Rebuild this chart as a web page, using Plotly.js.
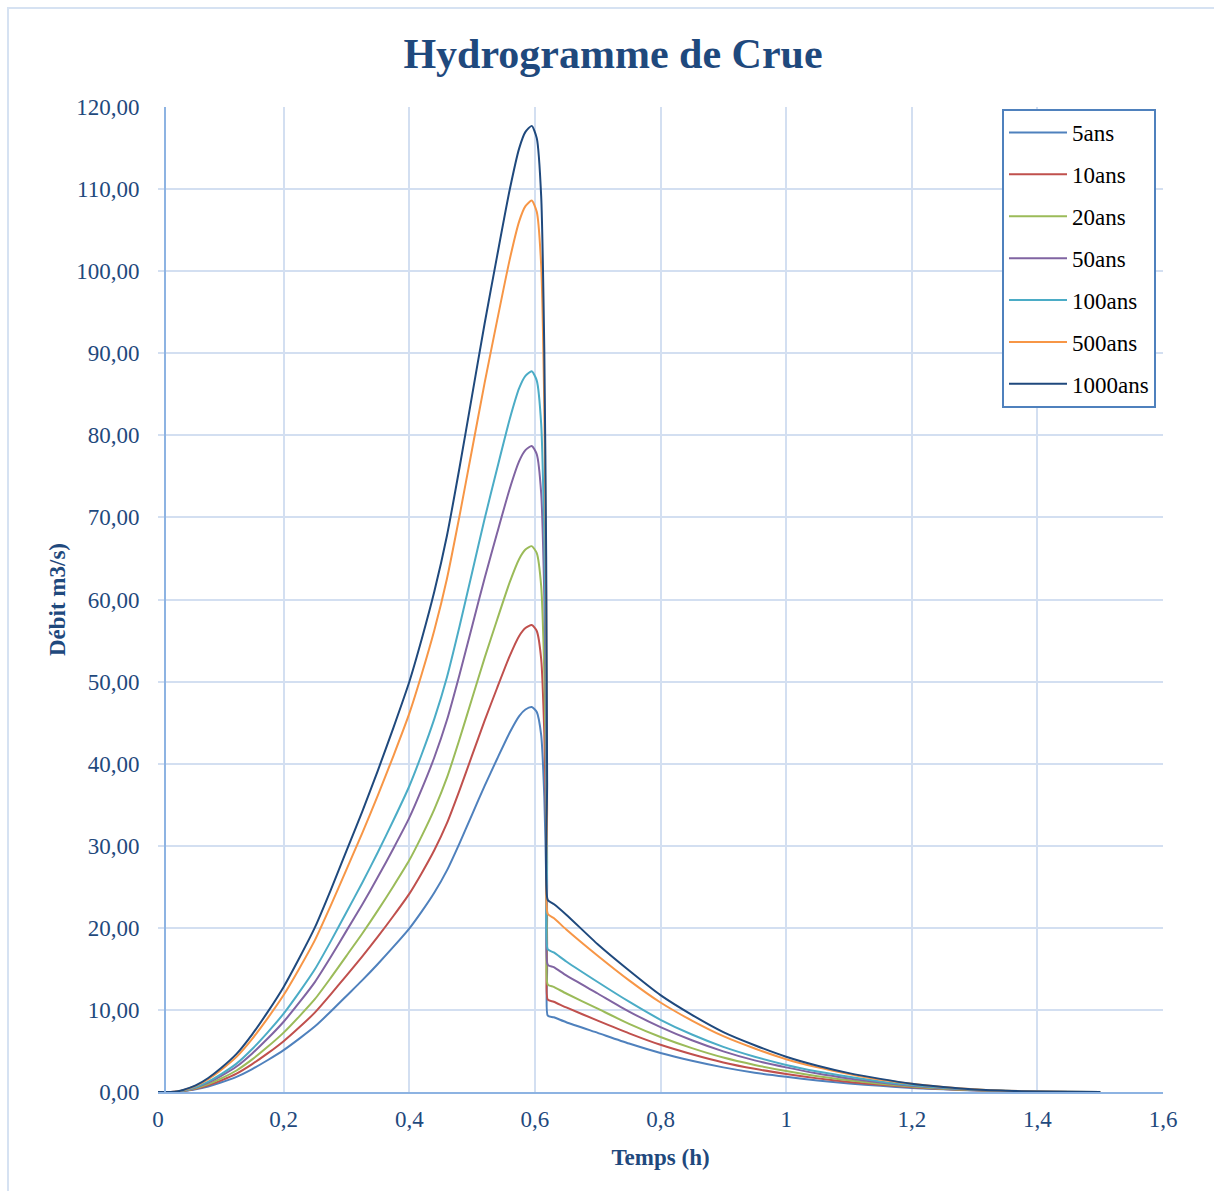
<!DOCTYPE html>
<html>
<head>
<meta charset="utf-8">
<script src="https://cdn.plot.ly/plotly-3.0.1.min.js"></script>
<style>
  html, body { margin: 0; padding: 0; background: #fff; }
  #chart { width: 1214px; height: 1191px; }
</style>
</head>
<body>
<div id="chart"></div>
<script>
// Time (h)
const temps = [0, 0.02, 0.03, 0.04, 0.05, 0.06, 0.08, 0.1, 0.125, 0.15, 0.175, 0.2, 0.225, 0.25, 0.275, 0.3, 0.325, 0.35, 0.375, 0.4,
  0.42, 0.44, 0.46, 0.48, 0.5, 0.52, 0.54, 0.56, 0.575, 0.585, 0.595, 0.603, 0.61, 0.615, 0.618, 0.6195, 0.6205, 0.63, 0.65, 0.7,
  0.75, 0.8, 0.85, 0.9, 0.95, 1.0, 1.05, 1.1, 1.15, 1.2, 1.25, 1.3, 1.35, 1.4, 1.45, 1.5];

const q5ans = [0, 0, 0.02, 0.1, 0.2, 0.32, 0.68, 1.15, 1.85, 2.8, 3.9, 5.1, 6.5, 8.0, 9.8, 11.7, 13.6, 15.6, 17.7, 19.9,
  22.0, 24.3, 27.0, 30.3, 33.8, 37.3, 40.6, 43.8, 45.8, 46.6, 46.9, 46.3, 43.5, 36.0, 26.0, 15.0, 9.3, 9.1, 8.5, 7.2,
  5.9, 4.75, 3.8, 3.0, 2.35, 1.85, 1.4, 1.05, 0.75, 0.5, 0.32, 0.18, 0.09, 0.04, 0.01, 0];

const q10ans = [0, 0, 0.02, 0.12, 0.24, 0.39, 0.82, 1.39, 2.24, 3.4, 4.73, 6.19, 7.88, 9.7, 11.89, 14.19, 16.5, 18.92, 21.47, 24.14,
  26.69, 29.48, 32.75, 36.75, 41.0, 45.24, 49.25, 53.13, 55.56, 56.53, 56.9, 56.16, 52.77, 43.67, 31.54, 18.2, 11.25, 11.0, 10.3, 8.7,
  7.15, 5.75, 4.6, 3.6, 2.82, 2.2, 1.66, 1.23, 0.87, 0.58, 0.36, 0.2, 0.1, 0.04, 0.01, 0];

const q20ans = [0, 0, 0.03, 0.14, 0.28, 0.45, 0.96, 1.63, 2.62, 3.97, 5.53, 7.23, 9.22, 11.34, 13.9, 16.59, 19.28, 22.12, 25.1, 28.22,
  31.2, 34.46, 38.29, 42.97, 47.93, 52.89, 57.57, 62.11, 64.94, 66.08, 66.5, 65.65, 61.68, 51.05, 36.87, 21.27, 13.1, 12.8, 12.0, 10.15,
  8.3, 6.7, 5.35, 4.2, 3.3, 2.55, 1.92, 1.42, 1.0, 0.66, 0.41, 0.23, 0.11, 0.05, 0.01, 0];

const q50ans = [0, 0, 0.03, 0.17, 0.34, 0.54, 1.14, 1.93, 3.1, 4.7, 6.54, 8.56, 10.91, 13.42, 16.44, 19.63, 22.82, 26.18, 29.7, 33.39,
  36.92, 40.78, 45.31, 50.84, 56.72, 62.59, 68.13, 73.5, 76.85, 78.19, 78.7, 77.69, 72.99, 60.41, 43.63, 25.17, 15.5, 15.2, 14.2, 12.0,
  9.8, 7.9, 6.3, 4.95, 3.85, 3.0, 2.25, 1.65, 1.15, 0.76, 0.47, 0.26, 0.12, 0.05, 0.01, 0];

const q100ans = [0, 0, 0.04, 0.19, 0.37, 0.6, 1.27, 2.15, 3.46, 5.24, 7.3, 9.55, 12.17, 14.98, 18.35, 21.9, 25.46, 29.2, 33.13, 37.25,
  41.18, 45.49, 50.54, 56.72, 63.27, 69.83, 76.0, 81.99, 85.74, 87.24, 87.8, 86.67, 81.43, 67.39, 48.67, 28.08, 17.4, 17.0, 15.9, 13.4,
  11.0, 8.8, 7.0, 5.5, 4.3, 3.3, 2.5, 1.85, 1.28, 0.85, 0.52, 0.29, 0.14, 0.06, 0.02, 0];

const q500ans = [0, 0, 0.05, 0.23, 0.46, 0.74, 1.57, 2.66, 4.28, 6.48, 9.03, 11.81, 15.05, 18.53, 22.7, 27.1, 31.5, 36.13, 40.99, 46.09,
  50.95, 56.28, 62.53, 70.17, 78.28, 86.39, 94.03, 101.44, 106.07, 107.93, 108.6, 107.23, 100.75, 83.38, 60.22, 34.74, 21.7, 21.2, 19.8, 16.6,
  13.6, 10.9, 8.7, 6.8, 5.3, 4.0, 3.0, 2.2, 1.5, 1.0, 0.6, 0.32, 0.15, 0.06, 0.02, 0];

const q1000ans = [0, 0, 0.05, 0.25, 0.5, 0.8, 1.71, 2.89, 4.64, 7.03, 9.79, 12.8, 16.32, 20.08, 24.6, 29.37, 34.14, 39.16, 44.43, 49.95,
  55.22, 61.0, 67.77, 76.05, 84.84, 93.62, 101.9, 109.94, 114.96, 116.97, 117.7, 116.21, 109.19, 90.36, 65.26, 37.65, 23.4, 22.9, 21.6, 18.0,
  14.8, 11.8, 9.4, 7.3, 5.7, 4.3, 3.2, 2.3, 1.6, 1.0, 0.6, 0.3, 0.15, 0.05, 0.02, 0];

const seriesNames = ["5ans", "10ans", "20ans", "50ans", "100ans", "500ans", "1000ans"];
const seriesValues = [q5ans, q10ans, q20ans, q50ans, q100ans, q500ans, q1000ans];
const seriesColors = ["#4F81BD", "#C0504D", "#9BBB59", "#8064A2", "#4BACC6", "#F79646", "#1F497D"];

const titleText = "Hydrogramme de Crue";
const xTitle = "Temps (h)";
const yTitle = "Débit m3/s)";

const serif = "Liberation Serif, Times New Roman, serif";
const blue = "#1F497D";

const traces = seriesNames.map((name, i) => ({
  type: "scatter",
  mode: "lines",
  name: name,
  x: temps,
  y: seriesValues[i],
  legendgroup: name,
  line: { color: seriesColors[i], width: 2, shape: "spline", smoothing: 0.6 }
}));

const W = 1214, H = 1191;
const L = 158, R = 51, T = 107, B = 99;
const pw = W - L - R, ph = H - T - B;

const layout = {
  width: W, height: H,
  paper_bgcolor: "#ffffff",
  plot_bgcolor: "#ffffff",
  separators: ", ",
  margin: { l: L, r: R, t: T, b: B, pad: 0 },
  title: {
    text: "<b>" + titleText + "</b>",
    font: { family: serif, size: 42, color: blue },
    x: 613 / W, xref: "container", xanchor: "center",
    y: 1 - 53 / H, yref: "container", yanchor: "middle"
  },
  xaxis: {
    range: [0, 1.6],
    dtick: 0.2, tick0: 0,
    showgrid: true, gridcolor: "#D3DFF1", gridwidth: 2,
    zeroline: false,
    showline: true, linecolor: "#8DB3E2", linewidth: 2,
    ticks: "",
    ticklabelstandoff: 5,
    tickfont: { family: serif, size: 23, color: blue },
    title: { text: "<b>" + xTitle + "</b>", font: { family: serif, size: 23, color: blue }, standoff: 18 },
    mirror: false
  },
  yaxis: {
    range: [0, 120],
    dtick: 10, tick0: 0,
    tickformat: ".2f",
    showgrid: true, gridcolor: "#D3DFF1", gridwidth: 2,
    zeroline: false,
    showline: true, linecolor: "#8DB3E2", linewidth: 2,
    anchor: "free", position: 7 / pw,
    ticks: "",
    ticklabelstandoff: 20,
    tickfont: { family: serif, size: 23, color: blue },
    title: { text: "<b>" + yTitle + "</b>", font: { family: serif, size: 23, color: blue }, standoff: 3 }
  },
  legend: {
    x: (1002 - L) / pw, xanchor: "left",
    y: (H - B - 109) / ph, yanchor: "top",
    bgcolor: "#ffffff",
    bordercolor: "#4F81BD", borderwidth: 2,
    font: { family: serif, size: 23, color: "#000000" },
    traceorder: "grouped",
    tracegroupgap: 9,
    itemwidth: 58
  },
  shapes: [
    {
      type: "rect", xref: "paper", yref: "paper",
      x0: (8 - L) / pw, x1: (W + 20 - L) / pw,
      y0: (H - B - (H + 20)) / ph, y1: (H - B - 8) / ph,
      line: { color: "#D6E2F2", width: 2 }, fillcolor: "rgba(0,0,0,0)", layer: "below"
    }
  ],
  showlegend: true
};

Plotly.newPlot("chart", traces, layout, { displayModeBar: false, staticPlot: true });
</script>
</body>
</html>
